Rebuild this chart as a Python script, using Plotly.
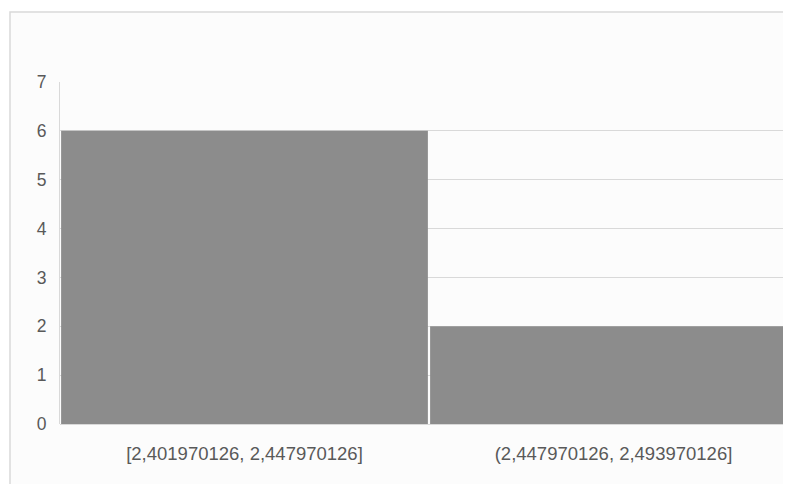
import plotly.graph_objects as go

categories = ["[2,401970126, 2,447970126]", "(2,447970126, 2,493970126]"]
counts = [6, 2]
y_ticks = [0, 1, 2, 3, 4, 5, 6, 7]

# page body has an 8px default margin; size the figure to fill the rest of the window
OFF = 8
W, H = 791 - OFF, 484 - OFF
ML, MR, MT, MB = 60 - OFF, 0, 82 - OFF, 484 - 424
pw = W - ML - MR
ph = H - MT - MB

fig = go.Figure()
fig.add_trace(go.Bar(
    x=list(range(len(categories))), y=counts, width=0.994,
    marker=dict(color="#8c8c8c", line=dict(width=0)),
))

# outer chart border
fig.add_shape(type="rect", xref="paper", yref="paper",
              x0=(10 - OFF - ML) / pw, x1=(W + 20 - ML) / pw,
              y0=-(MB + 20) / ph, y1=(H - (12 - OFF) - MB) / ph,
              line=dict(color="#d9d9d9", width=1.5), fillcolor="#fcfcfc", layer="below")

fig.update_layout(
    width=W, height=H,
    margin=dict(l=ML, r=MR, t=MT, b=MB, pad=0),
    paper_bgcolor="white", plot_bgcolor="rgba(0,0,0,0)",
    showlegend=False,
    font=dict(family="Liberation Sans", size=15, color="#595959"),
    xaxis=dict(
        tickmode="array", tickvals=list(range(len(categories))), ticktext=categories,
        range=[-0.5, -0.5 + pw / 369.0],
        showgrid=False, zeroline=False, showline=False,
        ticks="outside", ticklen=13, tickcolor="rgba(0,0,0,0)",
        tickfont=dict(size=18.5, color="#595959"),
    ),
    yaxis=dict(
        range=[0, 7], tickvals=y_ticks,
        showgrid=True, gridcolor="#d9d9d9", gridwidth=1,
        zeroline=True, zerolinecolor="#d9d9d9", zerolinewidth=1,
        showline=True, linecolor="#d9d9d9", linewidth=1,
        ticks="outside", ticklen=9, tickcolor="rgba(0,0,0,0)",
        tickfont=dict(size=17.5, color="#595959"),
    ),
)

fig.write_html("out.html")
